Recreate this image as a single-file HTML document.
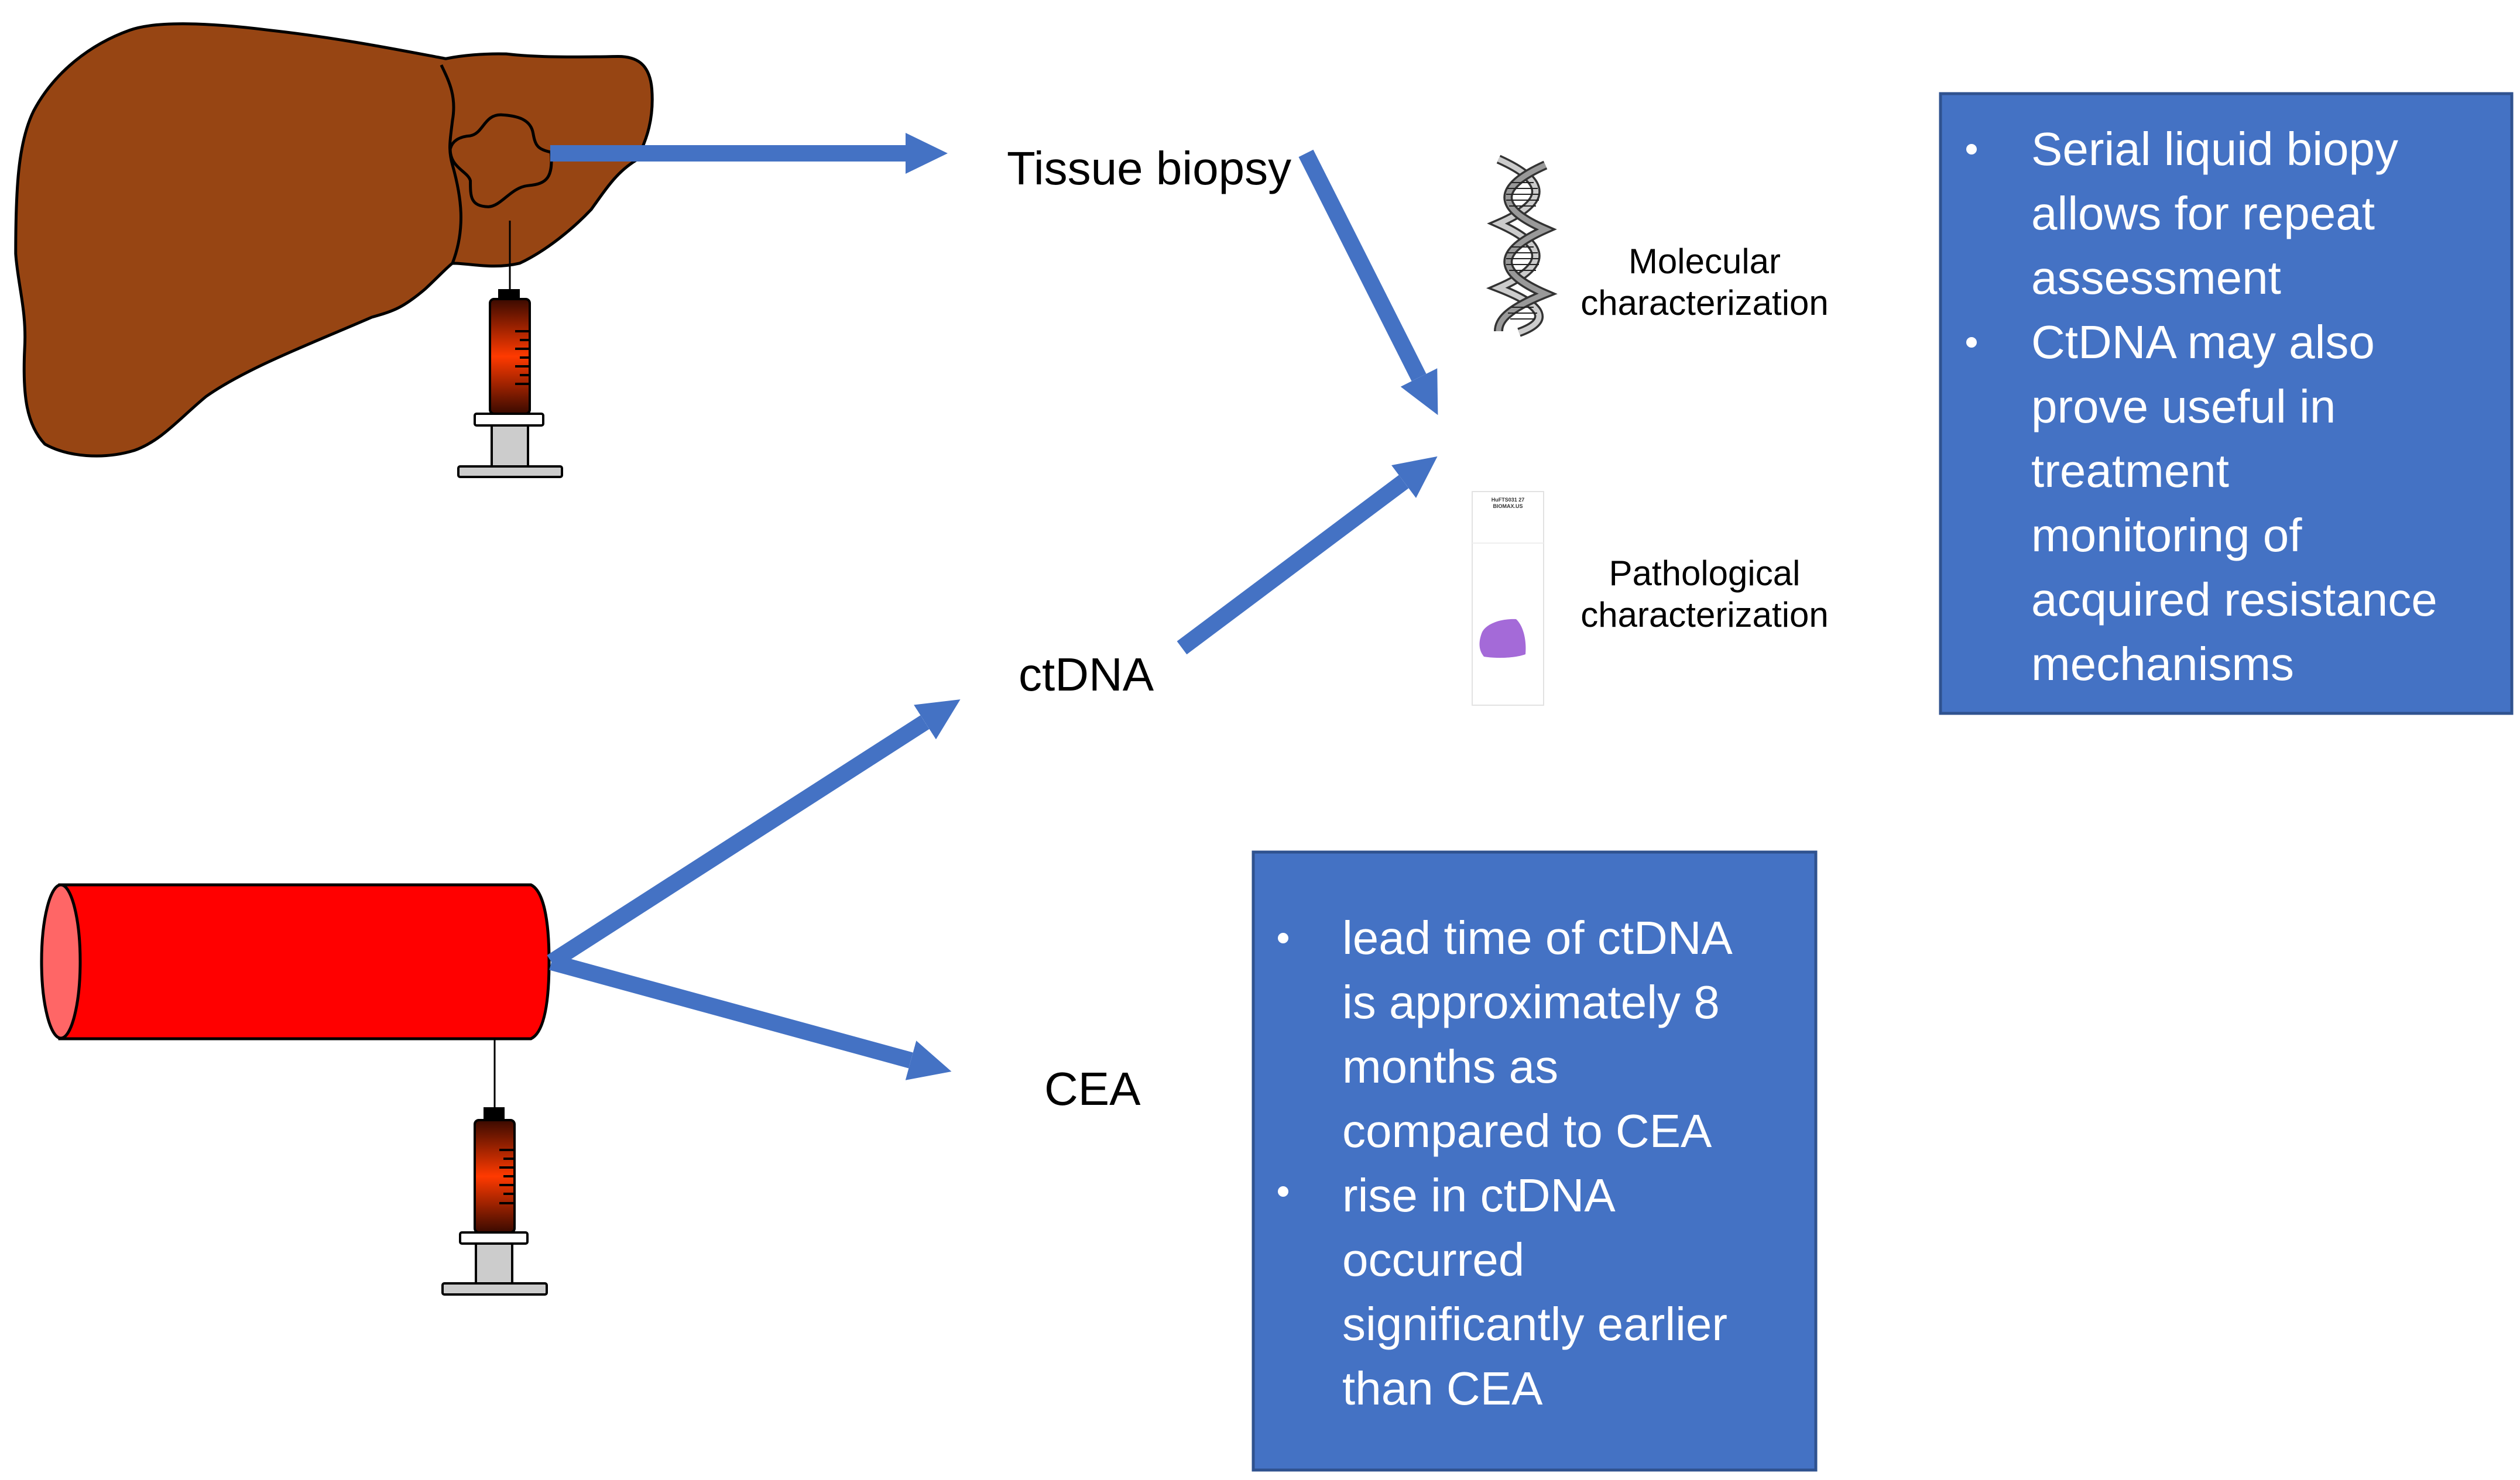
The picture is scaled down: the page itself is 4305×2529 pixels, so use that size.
<!DOCTYPE html>
<html><head><meta charset="utf-8"><style>
html,body{margin:0;padding:0;background:#fff;}
svg{display:block;}
</style></head><body>
<svg width="4305" height="2529" viewBox="0 0 4305 2529" xmlns="http://www.w3.org/2000/svg">
<defs>
<marker id="ah" viewBox="0 -35 72 70" refX="0" refY="0" markerUnits="userSpaceOnUse" markerWidth="72" markerHeight="70" orient="auto">
<path d="M0,-35 L72,0 L0,35 Z" fill="#4472C4"/>
</marker>
<linearGradient id="sg" x1="0" y1="0" x2="0" y2="1">
<stop offset="0" stop-color="#3a0a00"/><stop offset="0.5" stop-color="#ff3a00"/><stop offset="1" stop-color="#3a0a00"/>
</linearGradient>
</defs>

<!-- Liver -->
<g transform="scale(0.7653,0.542)" stroke="#000" stroke-width="5" fill="#974513">
<path vector-effect="non-scaling-stroke" d="M995,185 C900,160 760,120 600,95 C470,72 350,65 290,95 C200,140 120,230 75,350 C40,450 35,600 35,800 C40,900 60,980 55,1100 C50,1250 60,1340 100,1400 C150,1440 230,1450 300,1420 C360,1390 400,1320 460,1250 C550,1160 700,1080 830,1000 C880,980 900,970 950,910 C980,870 1000,840 1010,830 C1050,830 1100,850 1160,830 C1220,790 1280,720 1320,660 C1360,580 1380,540 1420,505 C1445,440 1460,370 1455,280 C1450,200 1420,178 1380,178 C1300,180 1200,182 1130,170 C1080,168 1030,175 995,185 Z"/>
<path vector-effect="non-scaling-stroke" fill="none" d="M985,205 C1000,250 1020,300 1010,380 C1005,440 1000,470 1010,520 C1030,620 1040,720 1010,830"/>
<path vector-effect="non-scaling-stroke" d="M1005,470 C1010,440 1030,430 1050,428 C1080,420 1080,360 1120,362 C1160,365 1185,380 1190,420 C1195,460 1200,470 1230,480 C1235,560 1220,580 1180,585 C1140,590 1120,650 1090,652 C1050,650 1050,620 1050,570 C1045,540 1005,530 1005,470 Z"/>
</g>

<!-- Syringe 1 -->
<g stroke="#000" stroke-width="4">
<line x1="871" y1="377" x2="871" y2="497" stroke-width="3"/>
<rect x="853" y="496" width="33" height="16" fill="#000"/>
<rect x="837" y="511" width="68" height="196" rx="7" fill="url(#sg)"/>
<g><line x1="880" y1="566" x2="903" y2="566"/><line x1="888" y1="581" x2="903" y2="581"/><line x1="880" y1="596" x2="903" y2="596"/><line x1="888" y1="611" x2="903" y2="611"/><line x1="880" y1="626" x2="903" y2="626"/><line x1="888" y1="641" x2="903" y2="641"/><line x1="880" y1="656" x2="903" y2="656"/></g>
<rect x="840" y="727" width="62" height="71" fill="#ccc"/>
<rect x="811" y="707" width="117" height="20" rx="3" fill="#fff"/>
<rect x="783" y="797" width="177" height="18" rx="3" fill="#ccc"/>
</g>

<!-- Blood vessel -->
<g stroke="#000" stroke-width="5">
<path d="M102,1512 L907,1512 C928,1522 938,1570 938,1643 C938,1720 928,1765 907,1775 L102,1775 Z" fill="#ff0000"/>
<ellipse cx="104" cy="1643" rx="33" ry="131" fill="#ff6666"/>
</g>

<!-- Syringe 2 -->
<g stroke="#000" stroke-width="4">
<line x1="845" y1="1775" x2="845" y2="1895" stroke-width="3"/>
<rect x="828" y="1894" width="32" height="20" fill="#000"/>
<rect x="811" y="1914" width="68" height="192" rx="7" fill="url(#sg)"/>
<g><line x1="853" y1="1965" x2="877" y2="1965"/><line x1="860" y1="1980" x2="877" y2="1980"/><line x1="853" y1="1995" x2="877" y2="1995"/><line x1="860" y1="2010" x2="877" y2="2010"/><line x1="853" y1="2025" x2="877" y2="2025"/><line x1="860" y1="2040" x2="877" y2="2040"/><line x1="853" y1="2056" x2="877" y2="2056"/></g>
<rect x="813" y="2125" width="62" height="69" fill="#ccc"/>
<rect x="786" y="2106" width="115" height="19" rx="3" fill="#fff"/>
<rect x="756" y="2193" width="178" height="19" rx="3" fill="#ccc"/>
</g>

<!-- Arrows -->
<g stroke="#4472C4" stroke-width="28" marker-end="url(#ah)">
<line x1="940" y1="262" x2="1547" y2="262"/>
<line x1="2231" y1="262" x2="2424" y2="645"/>
<line x1="2019" y1="1107" x2="2398" y2="823"/>
<line x1="942" y1="1644" x2="1580" y2="1234"/>
<line x1="942" y1="1644" x2="1556" y2="1812"/>
</g>

<!-- DNA -->
<g>
<path d="M2560,272 C2645,310 2645,345 2560,382 C2645,420 2645,455 2560,492 C2645,525 2645,550 2595,568" fill="none" stroke="#333" stroke-width="16"/>
<path d="M2560,272 C2645,310 2645,345 2560,382 C2645,420 2645,455 2560,492 C2645,525 2645,550 2595,568" fill="none" stroke="#ccc" stroke-width="9"/>
<path d="M2640,282 C2555,320 2555,355 2640,392 C2555,430 2555,465 2640,502 C2570,530 2560,550 2560,566" fill="none" stroke="#333" stroke-width="16"/>
<path d="M2640,282 C2555,320 2555,355 2640,392 C2555,430 2555,465 2640,502 C2570,530 2560,550 2560,566" fill="none" stroke="#999" stroke-width="9"/>
<g stroke="#222" stroke-width="2">
<line x1="2582" y1="312" x2="2620" y2="312"/><line x1="2575" y1="322" x2="2627" y2="322"/><line x1="2573" y1="332" x2="2629" y2="332"/><line x1="2573" y1="342" x2="2629" y2="342"/><line x1="2578" y1="352" x2="2624" y2="352"/>
<line x1="2582" y1="422" x2="2620" y2="422"/><line x1="2575" y1="432" x2="2627" y2="432"/><line x1="2573" y1="442" x2="2629" y2="442"/><line x1="2573" y1="452" x2="2629" y2="452"/><line x1="2578" y1="462" x2="2624" y2="462"/>
<line x1="2582" y1="525" x2="2620" y2="525"/><line x1="2576" y1="535" x2="2626" y2="535"/><line x1="2580" y1="545" x2="2622" y2="545"/>
</g>
</g>

<!-- Slide -->
<g>
<rect x="2515" y="840" width="122" height="365" fill="#fff" stroke="#e2e2e2" stroke-width="2"/>
<line x1="2515" y1="928" x2="2637" y2="928" stroke="#eee" stroke-width="2"/>
<text x="2576" y="857" font-family="Liberation Sans, sans-serif" font-size="9" font-weight="bold" text-anchor="middle" fill="#333">HuFTS031  27</text>
<text x="2576" y="868" font-family="Liberation Sans, sans-serif" font-size="9" font-weight="bold" text-anchor="middle" fill="#333">BIOMAX.US</text>
<path d="M2532,1080 C2540,1065 2565,1057 2590,1058 C2603,1070 2608,1095 2606,1118 C2590,1124 2560,1126 2535,1122 C2525,1110 2526,1095 2532,1080 Z" fill="#a46ad8"/>
</g>

<!-- Labels -->
<g font-family="Liberation Sans, sans-serif" fill="#000">
<text x="1720" y="315" font-size="80">Tissue biopsy</text>
<text x="1740" y="1180" font-size="80">ctDNA</text>
<text x="1784" y="1888" font-size="80">CEA</text>
<g font-size="60" text-anchor="middle">
<text x="2912" y="467">Molecular</text>
<text x="2912" y="538">characterization</text>
<text x="2912" y="1000">Pathological</text>
<text x="2912" y="1071">characterization</text>
</g>
</g>

<!-- Box 1 -->
<rect x="3315" y="160" width="976" height="1059" fill="#4472C4" stroke="#2F528F" stroke-width="5"/>
<g font-family="Liberation Sans, sans-serif" font-size="80" fill="#fff">
<circle cx="3368" cy="255" r="9"/>
<circle cx="3368" cy="585" r="9"/>
<text x="3470" y="282">Serial liquid biopy</text>
<text x="3470" y="392">allows for repeat</text>
<text x="3470" y="502">assessment</text>
<text x="3470" y="612">CtDNA may also</text>
<text x="3470" y="722">prove useful in</text>
<text x="3470" y="832">treatment</text>
<text x="3470" y="942">monitoring of</text>
<text x="3470" y="1052">acquired resistance</text>
<text x="3470" y="1162">mechanisms</text>
</g>

<!-- Box 2 -->
<rect x="2141" y="1456" width="961" height="1056" fill="#4472C4" stroke="#2F528F" stroke-width="5"/>
<g font-family="Liberation Sans, sans-serif" font-size="80" fill="#fff">
<circle cx="2192" cy="1603" r="9"/>
<circle cx="2192" cy="2036" r="9"/>
<text x="2293" y="1630">lead time of ctDNA</text>
<text x="2293" y="1740">is approximately 8</text>
<text x="2293" y="1850">months as</text>
<text x="2293" y="1960">compared to CEA</text>
<text x="2293" y="2070">rise in ctDNA</text>
<text x="2293" y="2180">occurred</text>
<text x="2293" y="2290">significantly earlier</text>
<text x="2293" y="2400">than CEA</text>
</g>
</svg>
</body></html>
